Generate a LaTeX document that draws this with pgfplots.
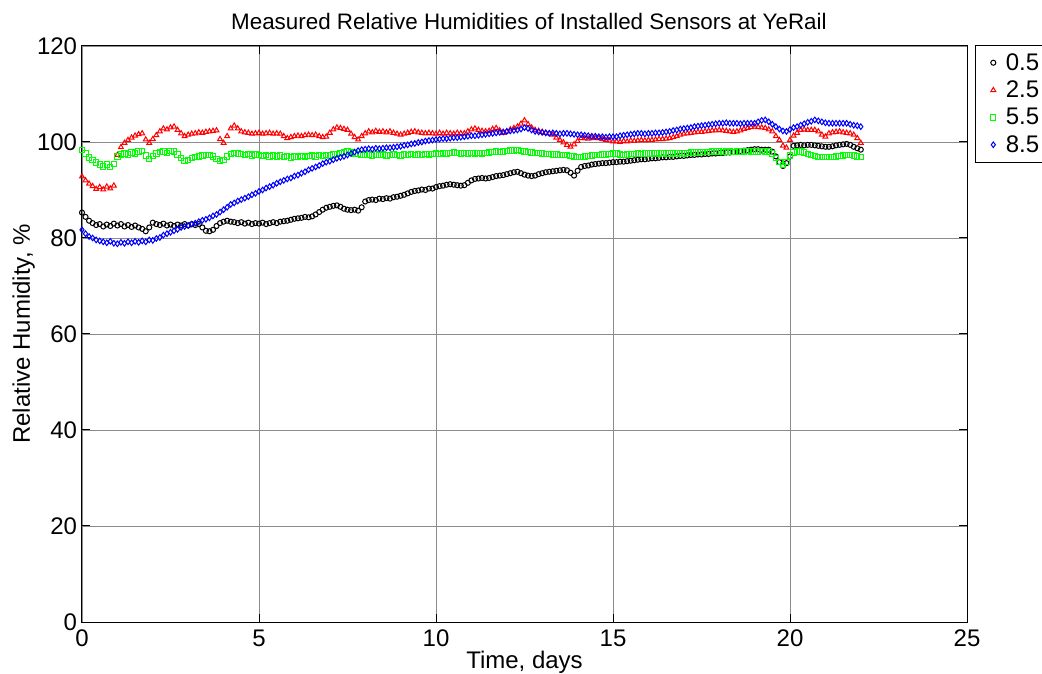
\documentclass[border=0pt]{standalone}
\usepackage{fontspec}
\setmainfont{Liberation Sans}
\usepackage{pgfplots}
\usepackage{pgfplotstable}
\pgfplotsset{compat=1.18}

% Relative humidity (%) logged by the four sensors; time in days
\pgfplotstableread{
t    s05   s25    s55   s85
0.0  85.3  92.8   98.3  81.7
0.1  84.4  92.0   97.6  80.9
0.2  83.6  91.3   96.8  80.3
0.3  83.1  90.8   96.2  80.0
0.4  82.7  90.2   95.7  79.6
0.5  82.9  90.6   95.3  79.4
0.6  82.4  90.1   94.9  79.2
0.7  82.8  90.7   95.3  79.0
0.8  82.5  90.3   94.8  79.3
0.9  83.0  90.9   95.4  78.9
1.0  82.6  97.3   97.0  78.8
1.1  82.9  98.9   97.4  79.1
1.2  82.4  99.8   97.6  78.9
1.3  82.7  100.4  97.4  79.2
1.4  82.3  100.9  97.8  79.0
1.5  82.6  101.3  97.6  79.3
1.6  82.2  101.6  98.0  79.1
1.7  81.9  101.8  98.1  79.4
1.8  81.4  100.5  97.2  79.2
1.9  82.2  99.8   96.4  79.6
2.0  83.2  100.6  97.1  79.5
2.1  82.9  101.4  97.6  79.9
2.2  82.7  102.2  97.9  80.1
2.3  83.0  102.8  98.0  80.6
2.4  82.6  102.6  97.7  80.9
2.5  82.8  103.0  98.1  81.2
2.6  82.5  103.2  98.0  81.5
2.7  82.8  102.5  97.4  81.8
2.8  82.6  101.8  96.6  82.2
2.9  82.9  101.2  96.0  82.4
3.0  82.6  101.5  96.3  82.6
3.1  82.9  101.7  96.7  82.9
3.2  82.7  101.8  96.9  83.1
3.3  82.9  102.0  97.0  83.4
3.4  82.2  101.9  97.2  83.7
3.5  81.5  102.1  97.3  83.9
3.6  81.4  102.2  97.3  84.2
3.7  81.7  102.3  97.0  84.6
3.8  82.5  102.4  96.5  84.9
3.9  83.1  100.6  96.0  85.4
4.0  83.4  99.8   96.3  85.9
4.1  83.6  101.2  97.0  86.4
4.2  83.4  102.8  97.5  87.0
4.3  83.3  103.4  97.7  87.3
4.4  83.1  102.8  97.6  87.7
4.5  83.3  102.2  97.5  88.0
4.6  83.0  102.0  97.3  88.3
4.7  83.2  101.9  97.5  88.6
4.8  82.9  101.7  97.2  89.0
4.9  83.1  101.8  97.4  89.3
5.0  83.0  101.9  97.3  89.7
5.1  83.2  101.7  97.1  90.0
5.2  82.9  101.8  97.3  90.4
5.3  83.1  101.9  97.0  90.7
5.4  83.3  101.7  97.2  91.0
5.5  83.1  101.8  97.0  91.4
5.6  83.4  101.7  97.2  91.7
5.7  83.5  101.2  96.9  92.0
5.8  83.6  100.8  97.1  92.3
5.9  83.8  101.0  96.8  92.5
6.0  84.0  101.2  97.0  92.9
6.1  84.1  101.3  96.9  93.1
6.2  84.2  101.2  97.1  93.5
6.3  84.4  101.4  96.9  93.8
6.4  84.3  101.5  97.1  94.2
6.5  84.5  101.4  97.2  94.5
6.6  84.9  101.5  97.0  94.8
6.7  85.4  101.2  97.3  95.1
6.8  85.9  101.0  97.1  95.5
6.9  86.3  101.1  97.3  95.8
7.0  86.5  101.9  97.2  96.0
7.1  86.7  102.6  97.4  96.3
7.2  86.8  103.0  97.5  96.6
7.3  86.5  102.9  97.7  96.8
7.4  86.1  102.7  97.9  97.0
7.5  85.9  102.5  98.0  97.3
7.6  85.8  101.7  97.8  97.6
7.7  85.9  101.0  97.6  97.9
7.8  85.7  100.5  97.5  98.2
7.9  86.4  101.2  97.4  98.4
8.0  87.6  101.8  97.3  98.5
8.1  87.9  102.2  97.4  98.6
8.2  88.0  102.0  97.2  98.5
8.3  87.9  102.3  97.4  98.7
8.4  88.2  102.1  97.3  98.6
8.5  88.1  102.2  97.4  98.7
8.6  88.3  102.0  97.2  98.8
8.7  88.2  102.2  97.3  98.8
8.8  88.5  101.9  97.4  98.9
8.9  88.6  101.7  97.3  99.0
9.0  88.8  101.5  97.2  99.1
9.1  89.0  101.7  97.4  99.3
9.2  89.3  101.9  97.3  99.4
9.3  89.6  102.1  97.5  99.6
9.4  89.8  102.2  97.3  99.7
9.5  89.9  102.0  97.4  99.9
9.6  90.1  101.9  97.3  100.0
9.7  90.0  101.8  97.5  100.2
9.8  90.3  101.9  97.4  100.3
9.9  90.3  101.8  97.5  100.4
10.0 90.6  101.7  97.6  100.5
10.1 90.8  101.9  97.5  100.6
10.2 90.9  101.7  97.7  100.7
10.3 91.1  101.9  97.6  100.7
10.4 91.2  101.8  97.7  100.8
10.5 91.1  101.7  97.8  100.9
10.6 91.0  101.9  97.7  100.9
10.7 90.9  101.8  97.6  101.0
10.8 91.0  101.8  97.7  101.1
10.9 91.5  102.2  97.6  101.2
11.0 92.0  102.6  97.7  101.3
11.1 92.3  102.8  97.6  101.3
11.2 92.4  102.5  97.7  101.4
11.3 92.5  102.3  97.6  101.5
11.4 92.4  102.2  97.7  101.6
11.5 92.5  102.3  97.8  101.7
11.6 92.7  102.7  97.9  101.8
11.7 92.9  102.9  98.0  101.9
11.8 93.0  102.4  97.9  102.0
11.9 93.1  101.9  98.0  102.1
12.0 93.3  102.2  98.1  102.2
12.1 93.5  102.6  98.2  102.3
12.2 93.7  102.9  98.2  102.4
12.3 93.8  103.2  98.3  102.5
12.4 93.5  103.8  98.1  102.7
12.5 93.2  104.5  98.0  103.0
12.6 93.0  103.7  97.9  102.8
12.7 92.9  103.0  97.8  102.5
12.8 93.0  102.5  97.7  102.2
12.9 93.3  102.3  97.7  102.1
13.0 93.5  102.1  97.6  102.0
13.1 93.7  101.9  97.5  101.9
13.2 93.8  101.8  97.5  101.8
13.3 93.9  101.5  97.4  101.9
13.4 94.0  100.9  97.4  101.8
13.5 94.1  100.4  97.3  101.7
13.6 94.2  99.9   97.3  101.8
13.7 94.1  99.4   97.3  101.8
13.8 93.6  99.0   97.1  101.7
13.9 93.0  99.5   97.0  101.6
14.0 94.0  100.2  96.9  101.5
14.1 94.8  100.8  96.9  101.5
14.2 95.0  100.8  97.0  101.4
14.3 95.1  100.7  97.1  101.3
14.4 95.3  100.9  97.2  101.2
14.5 95.4  100.8  97.3  101.2
14.6 95.5  100.8  97.3  101.1
14.7 95.6  100.6  97.4  101.1
14.8 95.6  100.4  97.4  101.0
14.9 95.7  100.3  97.5  101.1
15.0 95.8  100.1  97.6  101.1
15.1 95.8  100.1  97.6  101.1
15.2 95.9  100.0  97.4  101.3
15.3 95.9  100.2  97.3  101.4
15.4 96.0  100.1  97.4  101.5
15.5 96.1  100.3  97.5  101.6
15.6 96.2  100.2  97.5  101.7
15.7 96.3  100.3  97.6  101.8
15.8 96.4  100.4  97.5  101.8
15.9 96.4  100.3  97.6  101.7
16.0 96.5  100.4  97.6  101.8
16.1 96.6  100.4  97.6  101.8
16.2 96.6  100.5  97.7  101.9
16.3 96.7  100.6  97.6  101.9
16.4 96.8  100.6  97.7  102.0
16.5 96.8  100.7  97.6  102.1
16.6 96.9  100.8  97.6  102.2
16.7 96.9  101.0  97.7  102.4
16.8 97.0  101.2  97.6  102.5
16.9 97.1  101.5  97.7  102.7
17.0 97.1  101.7  97.6  102.8
17.1 97.2  101.8  97.7  102.9
17.2 97.3  101.9  97.8  103.0
17.3 97.3  102.0  97.8  103.2
17.4 97.4  102.1  97.8  103.3
17.5 97.4  102.1  97.9  103.4
17.6 97.5  102.2  97.9  103.5
17.7 97.5  102.3  97.9  103.6
17.8 97.6  102.4  98.0  103.7
17.9 97.6  102.4  98.0  103.8
18.0 97.7  102.5  98.0  103.9
18.1 97.7  102.4  97.9  103.9
18.2 97.8  102.3  98.0  104.0
18.3 97.8  102.2  98.0  103.9
18.4 97.9  102.1  97.9  103.9
18.5 98.0  102.2  98.0  103.9
18.6 98.1  102.4  98.0  103.8
18.7 98.2  102.7  98.0  103.9
18.8 98.3  102.9  98.1  103.9
18.9 98.4  103.1  98.0  103.9
19.0 98.5  103.2  98.0  103.9
19.1 98.5  103.1  98.0  104.2
19.2 98.4  103.0  98.1  104.5
19.3 98.4  102.9  98.0  104.6
19.4 98.4  102.6  98.0  104.2
19.5 98.0  102.2  97.6  103.7
19.6 97.0  101.2  96.6  103.2
19.7 95.8  100.4  95.8  102.7
19.8 95.0  99.2   95.2  102.3
19.9 95.6  98.8   95.8  102.2
20.0 97.0  100.4  97.2  102.6
20.1 99.2  101.3  97.8  103.0
20.2 99.3  101.9  98.0  103.2
20.3 99.4  102.5  98.0  103.5
20.4 99.3  102.6  97.8  103.8
20.5 99.4  102.5  97.5  104.1
20.6 99.4  102.5  97.3  104.3
20.7 99.3  102.5  97.1  104.6
20.8 99.2  102.2  96.9  104.4
20.9 99.1  101.5  96.9  104.2
21.0 99.0  101.1  96.9  104.0
21.1 99.0  101.8  96.9  103.9
21.2 99.1  102.0  96.9  103.9
21.3 99.3  102.1  97.0  103.9
21.4 99.4  102.2  97.1  103.9
21.5 99.5  102.0  97.2  103.9
21.6 99.6  101.9  97.3  103.9
21.7 99.4  101.8  97.3  103.7
21.8 99.0  101.5  97.2  103.5
21.9 98.7  100.8  97.0  103.4
22.0 98.4  99.8   96.9  103.2
}\rhdata

\begin{document}
\begin{tikzpicture}[x=1pt,y=1pt]
% page frame: the legend runs past the right edge and is cut there
\useasboundingbox (-61.5,-39) rectangle (720,466.5);
\begin{axis}[
  at={(0,0)}, anchor=south west,
  scale only axis, width=663.75pt, height=432pt,
  xmin=0, xmax=25, ymin=0, ymax=120,
  xtick={0,5,...,25}, ytick={0,20,...,120},
  tick align=inside, xtick pos=both, ytick pos=both,
  major tick length=6pt,
  grid=major,
  major grid style={draw=black!45, line width=0.6pt},
  axis line style={line width=0.75pt},
  every tick/.style={black, line width=0.75pt},
  /pgf/number format/assume math mode=true,
  ticklabel style={font=\fontsize{18}{21}\selectfont},
  xticklabel style={anchor=base, yshift=-18pt, inner sep=0pt},
  yticklabel style={anchor=east, xshift=-3.5pt, inner sep=0pt},
  every axis x label/.style={at={(axis description cs:0.5,-0.0799)}, anchor=base,
    font=\fontsize{18}{21}\selectfont},
  every axis y label/.style={at={(axis description cs:-0.0588,0.5)}, rotate=90, anchor=base,
    font=\fontsize{18}{21}\selectfont},
  xlabel={Time, days},
  ylabel={Relative Humidity, \%},
  every axis title/.style={at={(axis description cs:0.505,1.0278)}, anchor=base,
    font=\fontsize{16.8}{19}\selectfont},
  title={Measured Relative Humidities of Installed Sensors at YeRail},
  legend style={at={(axis description cs:1.009,1.002)}, anchor=north west,
    draw=black, line width=0.75pt, font=\fontsize{18}{21}\selectfont,
    inner xsep=6pt, inner ysep=4pt, row sep=2.5pt,
    cells={anchor=west}},
  legend image code/.code={%
    \path (0pt,0pt) (14pt,0pt);
    \draw[#1] plot coordinates {(7pt,0pt)};},
]
\addplot[only marks, mark=o, mark size=1.9pt, draw=black, line width=0.75pt]
  table[x=t, y=s05] {\rhdata};
\addlegendentry{0.5}
\addplot[only marks, mark=triangle, mark size=2.1pt, draw=red, line width=0.75pt]
  table[x=t, y=s25] {\rhdata};
\addlegendentry{2.5}
\addplot[only marks, mark=square, mark size=2pt, draw=green, line width=0.75pt]
  table[x=t, y=s55] {\rhdata};
\addlegendentry{5.5}
\addplot[only marks, mark=diamond, mark size=2.1pt, draw=blue, line width=0.75pt]
  table[x=t, y=s85] {\rhdata};
\addlegendentry{8.5}
\end{axis}
\end{tikzpicture}
\end{document}
